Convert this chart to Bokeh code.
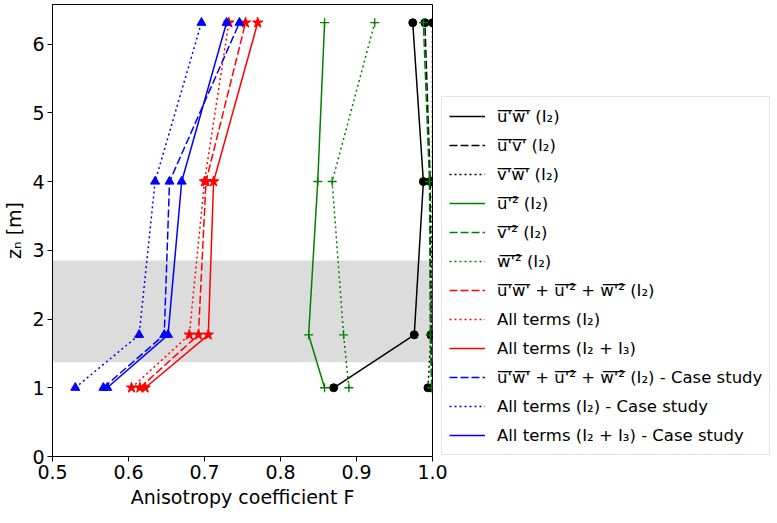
from bokeh.plotting import figure
from bokeh.models import Range1d, FixedTicker, BoxAnnotation, Legend, LegendItem
from bokeh.embed import file_html
from bokeh.resources import INLINE

# ---- data -------------------------------------------------------------
z = [1.0, 1.77, 4.0, 6.31]

uw_I2 = [0.870, 0.976, 0.988, 0.974]
uv_I2 = [0.999, 0.998, 0.997, 0.990]
vw_I2 = [0.994, 0.998, 1.000, 1.000]
uu_I2 = [0.858, 0.837, 0.849, 0.858]
vv_I2 = [0.999, 0.997, 0.996, 0.988]
ww_I2 = [0.890, 0.883, 0.868, 0.924]
sum_I2 = [0.615, 0.692, 0.702, 0.754]
all_I2 = [0.604, 0.680, 0.700, 0.732]
all_I2I3 = [0.622, 0.705, 0.712, 0.770]
case_sum_I2 = [0.567, 0.647, 0.654, 0.746]
case_all_I2 = [0.530, 0.614, 0.635, 0.696]
case_all_I2I3 = [0.572, 0.652, 0.670, 0.729]

band = [1.37, 2.85]

x_ticks = [0.5, 0.6, 0.7, 0.8, 0.9, 1.0]
x_tick_labels = ["0.5", "0.6", "0.7", "0.8", "0.9", "1.0"]
y_ticks = [0, 1, 2, 3, 4, 5, 6]


def ov(s):
    return "".join(c + "\u0305" for c in s)


labels = [
    ov("u'w'") + " (I₂)",
    ov("u'v'") + " (I₂)",
    ov("v'w'") + " (I₂)",
    ov("u'²") + " (I₂)",
    ov("v'²") + " (I₂)",
    ov("w'²") + " (I₂)",
    ov("u'w'") + " + " + ov("u'²") + " + " + ov("w'²") + " (I₂)",
    "All terms (I₂)",
    "All terms (I₂ + I₃)",
    ov("u'w'") + " + " + ov("u'²") + " + " + ov("w'²") + " (I₂) - Case study",
    "All terms (I₂) - Case study",
    "All terms (I₂ + I₃) - Case study",
]
values = [uw_I2, uv_I2, vw_I2, uu_I2, vv_I2, ww_I2, sum_I2, all_I2, all_I2I3,
          case_sum_I2, case_all_I2, case_all_I2I3]
colors = ["black"] * 3 + ["green"] * 3 + ["red"] * 3 + ["blue"] * 3
dashes = ["solid", "8 3", "2 3"] * 2 + ["8 3", "2 3", "solid"] * 2
markers = ["circle"] * 3 + ["cross"] * 3 + ["star"] * 3 + ["triangle"] * 3
msizes = {"circle": 8, "cross": 9, "star": 11, "triangle": 9}

# ---- figure -----------------------------------------------------------
p = figure(frame_width=380, frame_height=452, output_backend="svg",
           toolbar_location=None,
           x_range=Range1d(0.5, 1.0), y_range=Range1d(0, 6.575),
           min_border_left=10, min_border_top=4, min_border_bottom=10,
           min_border_right=0)
p.grid.visible = False
p.outline_line_color = "black"
p.outline_line_width = 1
p.background_fill_color = "white"
p.border_fill_color = "white"

p.add_layout(BoxAnnotation(bottom=band[0], top=band[1], fill_color="#dcdcdc",
                           fill_alpha=1.0, line_color=None, level="underlay"))

items = []
for lab, vals, col, dash, mk in zip(labels, values, colors, dashes, markers):
    r = p.line(vals, z, line_color=col, line_width=1.5, line_dash=dash)
    if mk == "cross":
        p.scatter(vals, z, marker=mk, size=msizes[mk], line_color=col,
                  line_width=1.3)
    else:
        p.scatter(vals, z, marker=mk, size=msizes[mk], fill_color=col,
                  line_color=col)
    items.append(LegendItem(label=lab, renderers=[r]))

legend = Legend(items=items, location=(9, 1),
                label_text_font="DejaVu Sans", label_text_font_size="16.5px",
                label_text_color="black",
                label_height=24, glyph_height=24, glyph_width=36,
                label_standoff=12, spacing=5, padding=7, margin=0,
                border_line_color="#cccccc", border_line_width=1,
                background_fill_color="white", background_fill_alpha=0.8)
p.add_layout(legend, "right")

p.xaxis.ticker = FixedTicker(ticks=x_ticks)
p.xaxis.major_label_overrides = {t: l for t, l in zip(x_ticks, x_tick_labels)}
p.yaxis.ticker = FixedTicker(ticks=y_ticks)
p.xaxis.axis_label = "Anisotropy coefficient F"
p.yaxis.axis_label = "zₙ [m]"
for ax in (p.xaxis[0], p.yaxis[0]):
    ax.axis_label_text_font = "DejaVu Sans"
    ax.axis_label_text_font_style = "normal"
    ax.axis_label_text_font_size = "19px"
    ax.axis_label_text_color = "black"
    ax.major_label_text_font = "DejaVu Sans"
    ax.major_label_text_font_size = "19px"
    ax.major_label_text_color = "black"
    ax.major_tick_out = 5
    ax.major_tick_in = 0
    ax.minor_tick_out = 0
    ax.minor_tick_in = 0
    ax.axis_line_color = "black"
    ax.major_tick_line_color = "black"
    ax.major_label_standoff = 3
    ax.axis_label_standoff = 4

open("out.html", "w").write(file_html(p, INLINE))
